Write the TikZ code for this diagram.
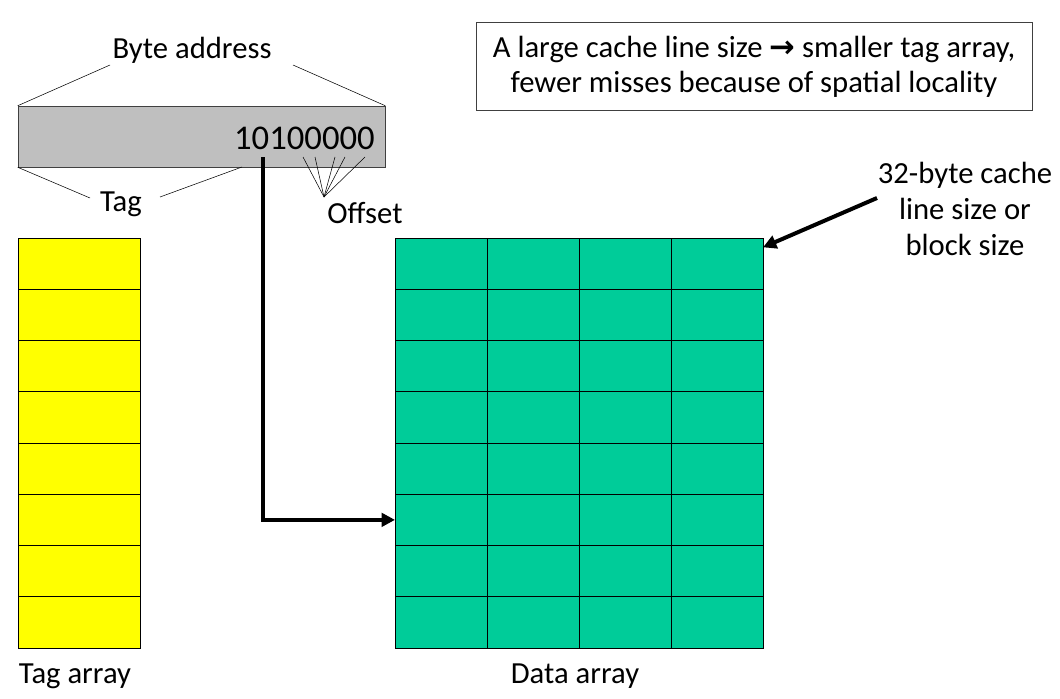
\documentclass[tikz,border=0pt]{standalone}
\usepackage{fontspec}
\setmainfont{Carlito}
\newfontfamily\arrowfont{DejaVu Sans}
\usetikzlibrary{arrows.meta}
\definecolor{addrgray}{RGB}{191,191,191}
\definecolor{datagreen}{RGB}{0,204,153}
\definecolor{tagyellow}{RGB}{255,255,0}
\begin{document}
\begin{tikzpicture}[x=0.75pt,y=-0.75pt,
    lbl/.style={font=\fontsize{23}{27}\selectfont,inner sep=0pt},
    tagcell/.style={draw,fill=tagyellow,minimum width=91.5pt,minimum height=38.44pt,inner sep=0pt,outer sep=0pt},
    datacell/.style={draw,fill=datagreen,minimum width=69pt,minimum height=38.44pt,inner sep=0pt,outer sep=0pt},
    bus/.style={line width=3pt,-{Triangle[length=10pt,width=10pt]}}]
    \useasboundingbox (0,0) rectangle (1060,699);
    % address
    \node[draw=black!75,fill=addrgray,minimum width=275.25pt,minimum height=45.75pt,inner sep=0pt] (addr) at (201.5,136.5) {};
    \node[anchor=east,inner sep=0pt,font=\fontsize{26}{30}\selectfont] (num) at (375,138) {10100000};
    \node[lbl] (byte) at (192,50) {Byte address};
    \node[lbl] (taglbl) at (121,204) {Tag};
    \node[lbl] (off) at (365,213) {Offset};
    \coordinate (bl) at (110,65);
    \coordinate (br) at (293,65);
    \coordinate (tl) at (90,198);
    \coordinate (tr) at (160,197);
    \coordinate (tagend) at (242,167);
    \coordinate (oc) at (324,197);
    \coordinate (bit) at (263,157);
    \draw (addr.north west) -- (bl);
    \draw (addr.north east) -- (br);
    \draw (addr.south west) -- (tl);
    \draw (tagend) -- (tr);
    \foreach \x in {303,315,335,345,365}
        \draw (\x,157) -- (oc);
    % arrays
    \foreach \i in {0,...,7} {
        \node[tagcell] (t-\i) at (79,238+51.25*\i+25.625) {};
        \foreach \j in {0,...,3}
            \node[datacell] (d-\i-\j) at (441+92*\j,238+51.25*\i+25.625) {};
    }
    \node[lbl] (tagarr) at (75,676) {Tag array};
    \node[lbl] (dataarr) at (575,676) {Data array};
    \draw[bus] (bit) |- (d-5-0.west);
    % notes
    \node[draw=black!75,line width=0.75pt,minimum width=417pt,minimum height=65.25pt,align=center,font=\fontsize{23}{26}\selectfont] (note) at (754,66.5)
        {A large cache line size {\arrowfont\bfseries →} smaller tag array,\\fewer misses because of spatial locality};
    \node[lbl,align=center] (blk) at (965,209) {32-byte cache\\line size or\\block size};
    \coordinate (ct) at (877,198);
    \draw[bus] (ct) -- ([yshift=-7pt]d-0-3.north east);
\end{tikzpicture}
\end{document}
